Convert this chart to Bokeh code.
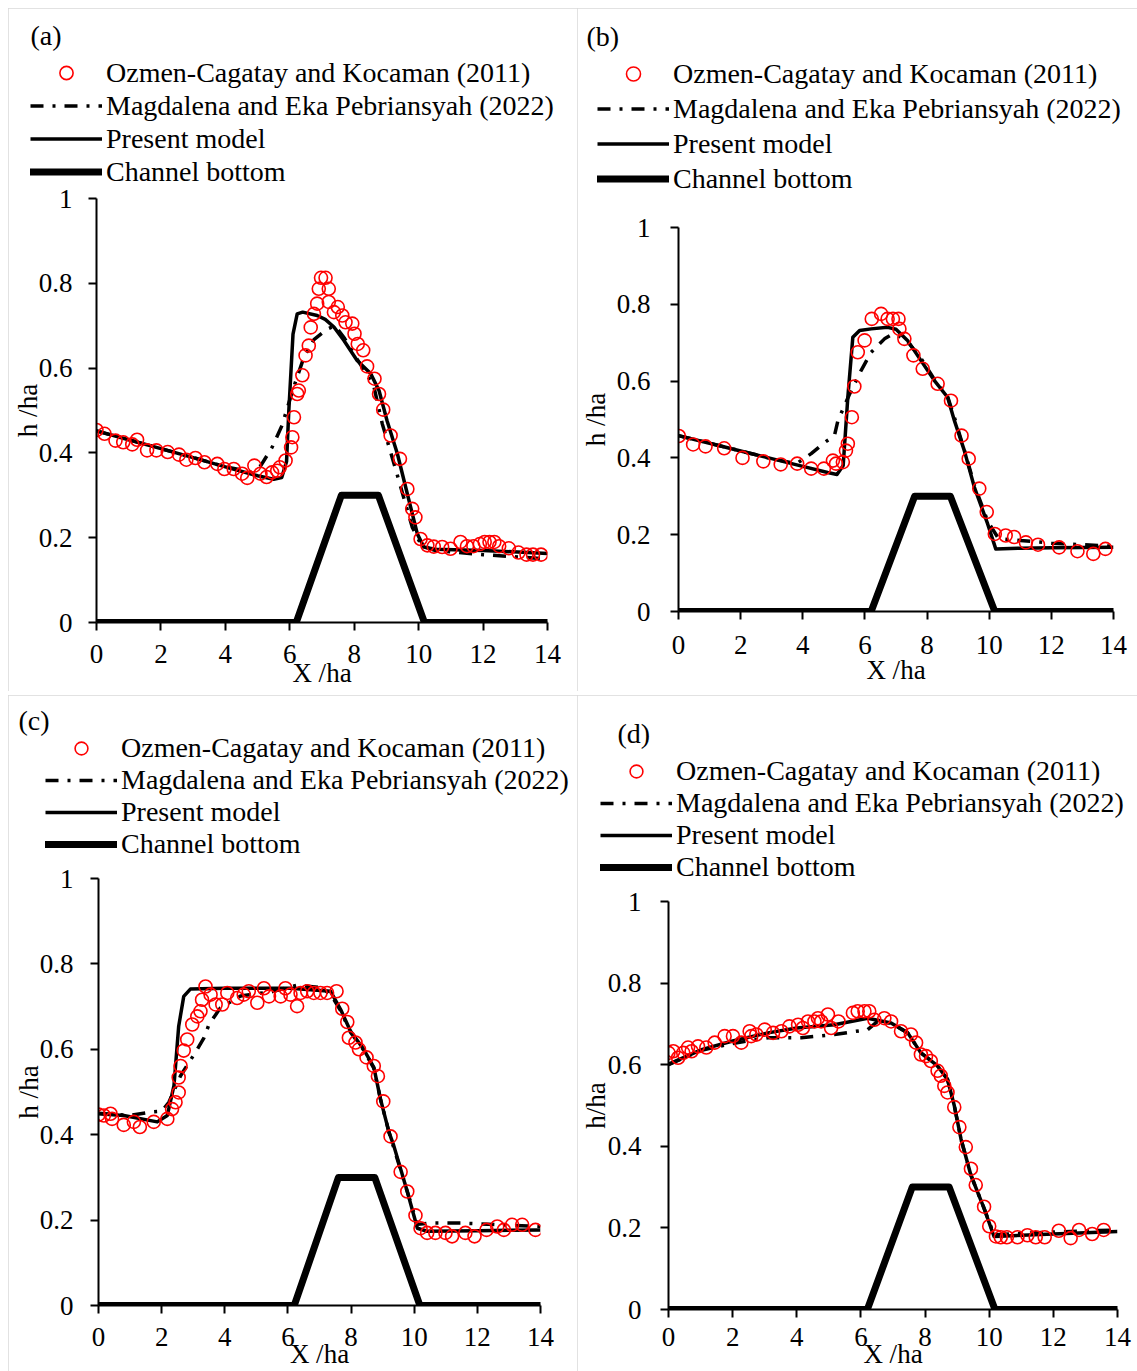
from bokeh.plotting import figure
from bokeh.models import Range1d, Legend, LegendItem, FixedTicker, Label
from bokeh.embed import file_html
from bokeh.resources import INLINE

FONT = "Liberation Serif"

# ---------------- data ----------------
x_ticks = [0, 2, 4, 6, 8, 10, 12, 14]
x_tick_labels = ["0", "2", "4", "6", "8", "10", "12", "14"]
y_ticks = [0, 0.2, 0.4, 0.6, 0.8, 1]
y_tick_labels = ["0", "0.2", "0.4", "0.6", "0.8", "1"]

series_names = ["Ozmen-Cagatay and Kocaman (2011)",
                "Magdalena and Eka Pebriansyah (2022)",
                "Present model",
                "Channel bottom"]

# channel bottom (trapezoidal obstacle)
bed_x = [0, 6.2, 7.6, 8.75, 10.18, 14]
bed_y = [0, 0, 0.3, 0.3, 0, 0]

# ---- panel (a) ----
a_obs_x = [0.0, 0.25, 0.59, 0.83, 1.11, 1.26, 1.57, 1.86, 2.21, 2.56, 2.79, 3.07, 3.35, 3.75, 3.97, 4.26,
           4.52, 4.68, 4.9, 5.09, 5.28, 5.45, 5.61, 5.69, 5.87, 6.04, 6.08, 6.13, 6.23, 6.28, 6.39, 6.49,
           6.59, 6.65, 6.75, 6.85, 6.9, 6.97, 7.11, 7.21, 7.21, 7.37, 7.49, 7.63, 7.73, 7.94, 8.01, 8.11,
           8.28, 8.40, 8.63, 8.77, 8.90, 9.13, 9.42, 9.65, 9.8, 9.9, 10.06, 10.27, 10.47, 10.73, 10.99,
           11.3, 11.5, 11.7, 11.9, 12.05, 12.2, 12.35, 12.5, 12.8, 13.1, 13.35, 13.55, 13.8]
a_obs_y = [0.454, 0.445, 0.429, 0.425, 0.42, 0.431, 0.406, 0.406, 0.402, 0.396, 0.384, 0.388, 0.378, 0.374,
           0.362, 0.362, 0.351, 0.341, 0.37, 0.351, 0.343, 0.354, 0.358, 0.366, 0.382, 0.413, 0.437, 0.484,
           0.539, 0.547, 0.583, 0.63, 0.653, 0.696, 0.728, 0.752, 0.787, 0.813, 0.813, 0.787, 0.756, 0.732,
           0.744, 0.724, 0.708, 0.705, 0.681, 0.657, 0.642, 0.604, 0.575, 0.539, 0.502, 0.441, 0.386, 0.315,
           0.268, 0.248, 0.197, 0.182, 0.179, 0.178, 0.174, 0.19, 0.18, 0.18, 0.185, 0.19, 0.19, 0.19, 0.18,
           0.175, 0.165, 0.16, 0.16, 0.16]
a_mod_x = [0, 1, 2, 3, 4, 5, 5.5, 5.75, 5.9, 5.97, 6.1, 6.23, 6.4, 6.85, 7.1, 7.37, 7.68, 8.09, 8.51, 8.77,
           9.02, 9.34, 9.65, 9.96, 10.16, 10.5, 12, 14]
a_mod_y = [0.452, 0.431, 0.41, 0.389, 0.367, 0.346, 0.338, 0.342, 0.38, 0.5, 0.68, 0.728, 0.732, 0.724,
           0.715, 0.697, 0.665, 0.618, 0.587, 0.547, 0.476, 0.398, 0.303, 0.209, 0.178, 0.173, 0.17, 0.163]
a_mm_x = [0, 1, 2, 3, 4, 4.8, 5.1, 5.45, 5.76, 6.1, 6.44, 6.75, 7.16, 7.4, 7.7, 8.1, 8.6, 8.87, 9.28, 9.8,
          10.1, 10.5, 12, 14]
a_mm_y = [0.452, 0.431, 0.41, 0.389, 0.367, 0.355, 0.37, 0.413, 0.465, 0.55, 0.626, 0.667, 0.692, 0.70,
          0.67, 0.62, 0.56, 0.469, 0.363, 0.225, 0.18, 0.17, 0.16, 0.15]

# ---- panel (b) ----
b_obs_x = [0.01, 0.47, 0.87, 1.47, 2.06, 2.73, 3.29, 3.82, 4.27, 4.68, 4.97, 5.07, 5.29, 5.39, 5.45, 5.58,
           5.66, 5.77, 5.99, 6.22, 6.52, 6.73, 6.9, 7.08, 7.11, 7.27, 7.56, 7.86, 8.34, 8.77, 9.11, 9.34,
           9.68, 9.92, 10.18, 10.53, 10.8, 11.18, 11.57, 12.25, 12.84, 13.35, 13.74]
b_obs_y = [0.457, 0.435, 0.43, 0.425, 0.4, 0.391, 0.383, 0.385, 0.372, 0.372, 0.393, 0.385, 0.389, 0.419,
           0.437, 0.506, 0.586, 0.675, 0.706, 0.762, 0.775, 0.762, 0.762, 0.762, 0.736, 0.71, 0.667, 0.632,
           0.593, 0.549, 0.458, 0.398, 0.32, 0.259, 0.202, 0.198, 0.194, 0.18, 0.174, 0.167, 0.157, 0.15, 0.163]
b_mod_x = [0, 1, 2, 3, 4, 4.8, 5.1, 5.3, 5.45, 5.61, 5.83, 6.2, 6.73, 7.0, 7.37, 7.8, 8.23, 8.66, 8.88, 9.2,
           9.52, 9.95, 10.21, 11, 12, 14]
b_mod_y = [0.458, 0.438, 0.418, 0.398, 0.378, 0.362, 0.357, 0.38, 0.558, 0.714, 0.732, 0.736, 0.74, 0.735,
           0.706, 0.654, 0.602, 0.558, 0.497, 0.419, 0.324, 0.228, 0.163, 0.165, 0.166, 0.167]
b_mm_x = [0, 1, 2, 3, 3.8, 4.27, 4.7, 5.02, 5.13, 5.5, 5.88, 6.2, 6.63, 6.9, 7.3, 7.8, 8.23, 8.66, 8.9, 9.2,
          9.52, 9.95, 10.3, 11, 12, 14]
b_mm_y = [0.458, 0.438, 0.418, 0.398, 0.385, 0.411, 0.44, 0.458, 0.497, 0.565, 0.628, 0.675, 0.71, 0.723,
          0.71, 0.66, 0.605, 0.56, 0.5, 0.42, 0.33, 0.235, 0.19, 0.185, 0.178, 0.17]

# ---- panel (c) ----
c_obs_x = [0.0, 0.17, 0.38, 0.43, 0.8, 1.12, 1.31, 1.75, 2.18, 2.33, 2.44, 2.54, 2.54, 2.6, 2.7, 2.81, 2.97,
           3.13, 3.23, 3.28, 3.39, 3.55, 3.71, 3.92, 4.08, 4.39, 4.6, 4.76, 5.03, 5.24, 5.4, 5.77, 5.92, 6.08,
           6.29, 6.4, 6.61, 6.82, 7.03, 7.24, 7.54, 7.72, 7.88, 7.93, 8.14, 8.25, 8.49, 8.72, 8.85, 9.02,
           9.25, 9.57, 9.78, 10.04, 10.2, 10.41, 10.67, 10.99, 11.2, 11.62, 11.91, 12.29, 12.63, 12.84,
           13.1, 13.42, 13.84]
c_obs_y = [0.447, 0.445, 0.449, 0.437, 0.423, 0.43, 0.418, 0.43, 0.437, 0.46, 0.476, 0.499, 0.534, 0.561,
           0.597, 0.623, 0.658, 0.677, 0.689, 0.716, 0.747, 0.728, 0.705, 0.705, 0.732, 0.72, 0.728, 0.736,
           0.709, 0.743, 0.724, 0.724, 0.743, 0.728, 0.701, 0.732, 0.736, 0.732, 0.732, 0.732, 0.736, 0.695,
           0.664, 0.627, 0.616, 0.6, 0.581, 0.561, 0.537, 0.478, 0.396, 0.313, 0.267, 0.211, 0.181, 0.17,
           0.17, 0.17, 0.162, 0.17, 0.162, 0.177, 0.185, 0.177, 0.189, 0.189, 0.177]
c_mod_x = [0, 0.8, 1.86, 2.18, 2.39, 2.54, 2.7, 2.91, 4, 6.08, 7.35, 7.67, 7.98, 8.4, 8.72, 8.93, 9.2, 9.35,
           9.78, 10.1, 10.41, 12, 14]
c_mod_y = [0.449, 0.445, 0.43, 0.445, 0.515, 0.654, 0.724, 0.741, 0.743, 0.743, 0.736, 0.693, 0.643, 0.6,
           0.558, 0.484, 0.406, 0.375, 0.267, 0.181, 0.174, 0.175, 0.177]
c_mm_x = [0, 1, 1.65, 2.0, 2.23, 2.6, 3.13, 3.34, 3.5, 3.86, 4.5, 5.5, 6.29, 7.0, 7.35, 7.67, 7.98, 8.4,
          8.72, 8.93, 9.2, 9.78, 10.1, 10.5, 11.47, 14]
c_mm_y = [0.45, 0.445, 0.453, 0.455, 0.476, 0.538, 0.6, 0.627, 0.658, 0.697, 0.725, 0.735, 0.75, 0.745,
          0.73, 0.69, 0.64, 0.598, 0.556, 0.484, 0.406, 0.267, 0.19, 0.193, 0.193, 0.185]

# ---- panel (d) ----
d_obs_x = [0, 0.15, 0.3, 0.46, 0.61, 0.72, 0.92, 1.18, 1.44, 1.75, 2.01, 2.27, 2.53, 2.58, 2.74, 3.0, 3.26,
           3.52, 3.77, 4.04, 4.19, 4.35, 4.55, 4.66, 4.76, 4.97, 5.07, 5.3, 5.75, 5.9, 6.11, 6.26, 6.42,
           6.73, 6.94, 7.25, 7.56, 7.72, 7.87, 8.03, 8.18, 8.39, 8.49, 8.6, 8.7, 8.91, 9.07, 9.27, 9.43,
           9.58, 9.84, 10.0, 10.21, 10.36, 10.55, 10.88, 11.19, 11.45, 11.73, 12.17, 12.54, 12.8, 13.21,
           13.57]
d_obs_y = [0.629, 0.633, 0.617, 0.629, 0.642, 0.633, 0.645, 0.642, 0.654, 0.67, 0.67, 0.654, 0.682, 0.67,
           0.674, 0.686, 0.678, 0.682, 0.694, 0.698, 0.69, 0.706, 0.706, 0.714, 0.706, 0.723, 0.69, 0.706,
           0.727, 0.731, 0.731, 0.731, 0.71, 0.714, 0.706, 0.682, 0.674, 0.654, 0.625, 0.621, 0.609, 0.585,
           0.573, 0.548, 0.532, 0.496, 0.447, 0.398, 0.345, 0.305, 0.252, 0.204, 0.179, 0.177, 0.177, 0.177,
           0.182, 0.177, 0.177, 0.193, 0.175, 0.195, 0.185, 0.195]
d_mod_x = [0, 1.03, 2, 3.1, 4, 5.17, 6.21, 6.94, 7.46, 7.87, 8.39, 8.7, 8.91, 9.12, 9.43, 9.84, 10.15, 12, 14]
d_mod_y = [0.601, 0.637, 0.658, 0.678, 0.69, 0.698, 0.714, 0.702, 0.678, 0.629, 0.597, 0.564, 0.5, 0.418,
           0.329, 0.248, 0.179, 0.185, 0.191]
d_mm_x = [0, 1, 2, 3.1, 4.14, 5.17, 6.21, 6.5, 6.94, 7.46, 7.87, 8.39, 8.7, 8.91, 9.12, 9.43, 9.84, 10.15,
          12, 14]
d_mm_y = [0.6, 0.635, 0.652, 0.666, 0.666, 0.674, 0.686, 0.705, 0.702, 0.678, 0.629, 0.597, 0.564, 0.5,
          0.418, 0.329, 0.248, 0.183, 0.19, 0.195]

# ---------------- styles ----------------
OBS_STYLE = dict(marker="circle", size=13, line_color="#ff0000", fill_color=None, line_width=1.6)
MM_STYLE = dict(line_width=3.5, line_color="black", line_dash="13 9 3 9")
MOD_STYLE = dict(line_width=3.5, line_color="black", line_join="round")
BED_STYLE = dict(line_width=7, line_color="black", line_join="round", line_cap="round")


def placed(p, left, top, outline=False):
    st = {"position": "absolute", "left": f"{left}px", "top": f"{top}px"}
    if outline:
        st.update({"outline": "2px solid #d9d9d9", "outline-offset": "-2px"})
    p.styles = st
    return p


def add_series(p, obs, mod, mm):
    r_bed = p.line(bed_x, bed_y, **BED_STYLE)
    r_mm = p.line(mm[0], mm[1], **MM_STYLE)
    r_mod = p.line(mod[0], mod[1], **MOD_STYLE)
    r_obs = p.scatter(obs[0], obs[1], **OBS_STYLE)
    return [r_obs, r_mm, r_mod, r_bed]


def make_plot(ylab, obs, mod, mm, pos, size, borders, x_so, xlab_so, y_so, ylab_so):
    W, H = size
    bl, br, bt, bb = borders
    p = figure(width=W, height=H, x_range=Range1d(0, 14), y_range=Range1d(0, 1),
               output_backend="svg", toolbar_location=None,
               min_border_left=bl, min_border_right=br, min_border_top=bt, min_border_bottom=bb)
    p.outline_line_color = None
    p.xgrid.visible = False
    p.ygrid.visible = False
    p.background_fill_color = "white"
    p.border_fill_color = "white"

    for ax in (p.xaxis[0], p.yaxis[0]):
        ax.axis_line_width = 2
        ax.axis_line_color = "black"
        ax.major_tick_line_width = 2
        ax.major_tick_line_color = "black"
        ax.major_tick_out = 8
        ax.major_tick_in = 0
        ax.minor_tick_line_color = None
        ax.major_label_text_font = FONT
        ax.major_label_text_font_size = "27px"
        ax.major_label_text_color = "black"
        ax.axis_label_text_font = FONT
        ax.axis_label_text_font_size = "27px"
        ax.axis_label_text_font_style = "normal"
        ax.axis_label_text_color = "black"

    p.xaxis.ticker = FixedTicker(ticks=x_ticks)
    p.xaxis.major_label_overrides = dict(zip(x_ticks, x_tick_labels))
    p.yaxis.ticker = FixedTicker(ticks=y_ticks)
    p.yaxis.major_label_overrides = dict(zip(y_ticks, y_tick_labels))
    p.xaxis.axis_label = "X /ha"
    p.yaxis.axis_label = ylab
    p.xaxis.major_label_standoff = x_so
    p.xaxis.axis_label_standoff = xlab_so
    p.yaxis.major_label_standoff = y_so
    p.yaxis.axis_label_standoff = ylab_so

    add_series(p, obs, mod, mm)
    return placed(p, pos[0], pos[1], outline=True)


def make_legend(tag, obs, mod, mm, pos, size, glyph_dx, glyph_h, tag_xy):
    """A transparent overlay figure that carries the key and the panel tag.
    Its ranges lie outside the data, so only the key's glyph samples show."""
    W, H = size
    q = figure(width=W, height=H, x_range=Range1d(-30, -29), y_range=Range1d(-30, -29),
               x_axis_type=None, y_axis_type=None, output_backend="svg", toolbar_location=None,
               min_border=0)
    q.outline_line_color = None
    q.background_fill_color = None
    q.border_fill_color = None
    q.grid.visible = False
    rs = add_series(q, obs, mod, mm)
    legend = Legend(items=[LegendItem(label=name, renderers=[r]) for name, r in zip(series_names, rs)],
                    location=(glyph_dx, 0), orientation="vertical")
    legend.label_text_font = FONT
    legend.label_text_font_size = "28px"
    legend.label_text_color = "black"
    legend.glyph_width = 72
    legend.glyph_height = glyph_h
    legend.label_height = 20
    legend.label_standoff = 4
    legend.spacing = 0
    legend.padding = 0
    legend.margin = 0
    legend.border_line_color = None
    legend.background_fill_alpha = 0
    q.add_layout(legend)
    q.add_layout(Label(x=tag_xy[0], y=tag_xy[1], x_units="screen", y_units="screen", text=tag,
                       text_font=FONT, text_font_size="28px", text_baseline="middle",
                       text_align="left", text_color="black"))
    return placed(q, pos[0], pos[1])


A = ((a_obs_x, a_obs_y), (a_mod_x, a_mod_y), (a_mm_x, a_mm_y))
B = ((b_obs_x, b_obs_y), (b_mod_x, b_mod_y), (b_mm_x, b_mm_y))
C = ((c_obs_x, c_obs_y), (c_mod_x, c_mod_y), (c_mm_x, c_mm_y))
D = ((d_obs_x, d_obs_y), (d_mod_x, d_mod_y), (d_mm_x, d_mm_y))

pa = make_plot("h /ha", *A, (8, 8), (569, 683), (88, 30, 190, 69), 14, -8, 16, -7)
pb = make_plot("h /ha", *B, (577, 8), (560, 683), (100, 24, 219, 80), 16, -2, 20, 3)
pc = make_plot("h /ha", *C, (8, 695), (569, 676), (90, 37, 183, 63), 14, -10, 17, -7)
pd = make_plot("h/ha", *D, (577, 695), (560, 676), (90, 20, 206, 59), 10, -10, 19, -6)

la = make_legend("(a)", *A, (26, 10), (545, 178), 4, 33, (4, 153))
lb = make_legend("(b)", *B, (582, 10), (550, 186), 15, 35, (4, 160))
lc = make_legend("(c)", *C, (14, 697), (555, 163), 31, 32, (4, 140))
ld = make_legend("(d)", *D, (596, 697), (536, 186), 4, 32, (21, 150))

open("out.html", "w").write(file_html([pa, pb, pc, pd, la, lb, lc, ld], INLINE))
